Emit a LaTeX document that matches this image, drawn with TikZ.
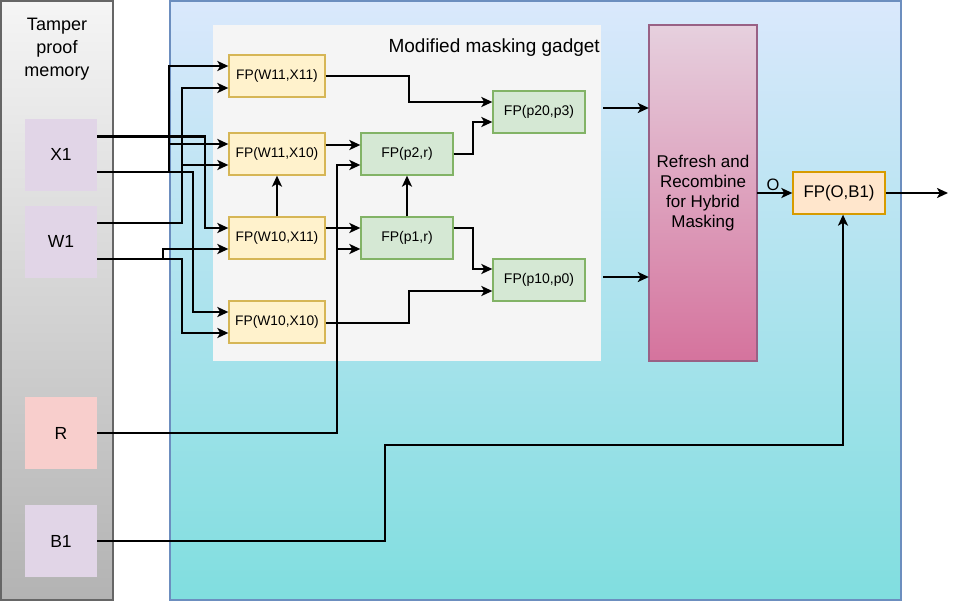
\documentclass[tikz,border=0pt]{standalone}
\usepackage{fontspec}
\setmainfont{Liberation Sans}
\usetikzlibrary{arrows.meta,calc}
\definecolor{ylwfill}{HTML}{FFF2CC}
\definecolor{ylwline}{HTML}{D6B656}
\definecolor{grnfill}{HTML}{D5E8D4}
\definecolor{grnline}{HTML}{82B366}
\definecolor{orgfill}{HTML}{FFE6CC}
\definecolor{orgline}{HTML}{D79B00}
\definecolor{purfill}{HTML}{E1D5E7}
\definecolor{redfill}{HTML}{F8CECC}
\definecolor{gadfill}{HTML}{F5F5F5}
\definecolor{memtop}{HTML}{F5F5F5}
\definecolor{membot}{HTML}{B3B3B3}
\definecolor{memline}{HTML}{666666}
\definecolor{bluetop}{HTML}{DAE8FC}
\definecolor{bluebot}{HTML}{80DEDF}
\definecolor{blueline}{HTML}{6C8EBF}
\definecolor{pinktop}{HTML}{E6D0DE}
\definecolor{pinkbot}{HTML}{D5739D}
\definecolor{pinkline}{HTML}{996185}
\tikzset{
  fpy/.style={draw=ylwline,fill=ylwfill,line width=1.3pt,minimum width=96pt,minimum height=42pt,inner sep=0pt,font=\fontsize{13.8}{16}\selectfont},
  fpg/.style={draw=grnline,fill=grnfill,line width=1.3pt,minimum width=92pt,minimum height=42pt,inner sep=0pt,font=\fontsize{14}{16}\selectfont},
  membox/.style={minimum width=72pt,minimum height=72pt,inner sep=0pt,font=\fontsize{17.5}{20}\selectfont},
  arr/.style={line width=2.2pt,-{Stealth[length=11pt,width=10pt,inset=2.8pt]}},
  ln/.style={line width=2.2pt}
}
\begin{document}
\begin{tikzpicture}[x=1pt,y=-1pt]
\useasboundingbox (0,0) rectangle (958,602);
% panels
\shade[top color=memtop,bottom color=membot,draw=memline,line width=1.5pt] (1,1) rectangle (113,600);
\node[font=\fontsize{18}{23}\selectfont,align=center] (memlabel) at (57,49) {Tamper\\proof\\memory};
\shade[top color=bluetop,bottom color=bluebot,draw=blueline,line width=1.5pt] (170,1) rectangle (901,600);
\node[fill=gadfill,minimum width=388pt,minimum height=336pt,inner sep=0pt] (gadget) at (407,193) {};
\node[anchor=east,font=\fontsize{19}{22}\selectfont,inner sep=0pt] (gadlabel) at (600,48) {Modified masking gadget};
% memory boxes
\node[membox,fill=purfill] (X1) at (61,154.5) {X1};
\node[membox,fill=purfill] (W1) at (61,241.5) {W1};
\node[membox,fill=redfill] (R) at (61,433) {R};
\node[membox,fill=purfill] (B1) at (61,541) {B1};
% FP nodes
\node[fpy] (w11x11) at (277,76) {FP(W11,X11)};
\node[fpy] (w11x10) at (277,154) {FP(W11,X10)};
\node[fpy] (w10x11) at (277,238) {FP(W10,X11)};
\node[fpy] (w10x10) at (277,322) {FP(W10,X10)};
\node[fpg] (p2r) at (407,154) {FP(p2,r)};
\node[fpg] (p1r) at (407,238) {FP(p1,r)};
\node[fpg] (p20p3) at (539,112) {FP(p20,p3)};
\node[fpg] (p10p0) at (539,280) {FP(p10,p0)};
% pink block
\shade[top color=pinktop,bottom color=pinkbot,draw=pinkline,line width=1.5pt] (649,25) rectangle (757,361);
\node[minimum width=108pt,minimum height=336pt,inner sep=0pt,align=center,font=\fontsize{17}{20}\selectfont] (pink) at (703,193) {Refresh and\\Recombine\\for Hybrid\\Masking};
\node[draw=orgline,fill=orgfill,line width=1.3pt,minimum width=92pt,minimum height=42pt,inner sep=0pt,font=\fontsize{16.8}{20}\selectfont] (fpo) at (839,193) {FP(O,B1)};
\coordinate (out) at (948,193);
% connectors from memory
\draw[arr] ([yshift=18pt]X1.east) -| (205,228) -- ([yshift=10pt]w10x11.west);
\draw[arr] ([yshift=-17.5pt]X1.east) -| (193,312) -- ([yshift=10pt]w10x10.west);
\draw[arr] ([yshift=-17.5pt]X1.east) -| (169,66) -- ([yshift=10pt]w11x11.west);
\draw[arr] (169,144) -- ([yshift=10pt]w11x10.west);
\draw[arr] ([yshift=18.5pt]W1.east) -| (182,88) -- ([yshift=-12pt]w11x11.west);
\draw[arr] (182,165) -- ([yshift=-11pt]w11x10.west);
\draw[arr] ([yshift=-17.5pt]W1.east) -| (163,249) -- ([yshift=-11pt]w10x11.west);
\draw[arr] ([yshift=-17.5pt]W1.east) -| (182,333) -- ([yshift=-11pt]w10x10.west);
\draw[arr] (R.east) -| (337,165) -- ([yshift=-11pt]p2r.west);
\draw[arr] (337,249) -- ([yshift=-11pt]p1r.west);
% gadget internals
\draw[arr] (w11x11.east) -| (409,102) -- ([yshift=10pt]p20p3.west);
\draw[arr] ([yshift=9pt]w11x10.east) -- ([yshift=9pt]p2r.west);
\draw[arr] (w10x11.north) -- (w11x10.south);
\draw[arr] ([yshift=10pt]w10x11.east) -- ([yshift=10pt]p1r.west);
\draw[arr] (p1r.north) -- (p2r.south);
\draw[arr] (p2r.east) -| (473,122) -- ([yshift=-10pt]p20p3.west);
\draw[arr] ([yshift=10pt]p1r.east) -| (473,269) -- ([yshift=11pt]p10p0.west);
\draw[arr] ([yshift=-1pt]w10x10.east) -| (409,291) -- ([yshift=-11pt]p10p0.west);
% to refresh block
\draw[arr] ([xshift=2pt]gadget.east |- 0,108) -- (pink.west |- 0,108);
\draw[arr] ([xshift=2pt]gadget.east |- 0,277) -- (pink.west |- 0,277);
\draw[arr] (pink.east) -- node[above,pos=0.45,inner sep=1pt,font=\fontsize{16.5}{18}\selectfont] {O} (fpo.west);
\draw[arr] (fpo.east) -- (out);
\draw[arr] (B1.east) -| (385,445) -| ([xshift=4pt]fpo.south);
\end{tikzpicture}
\end{document}
